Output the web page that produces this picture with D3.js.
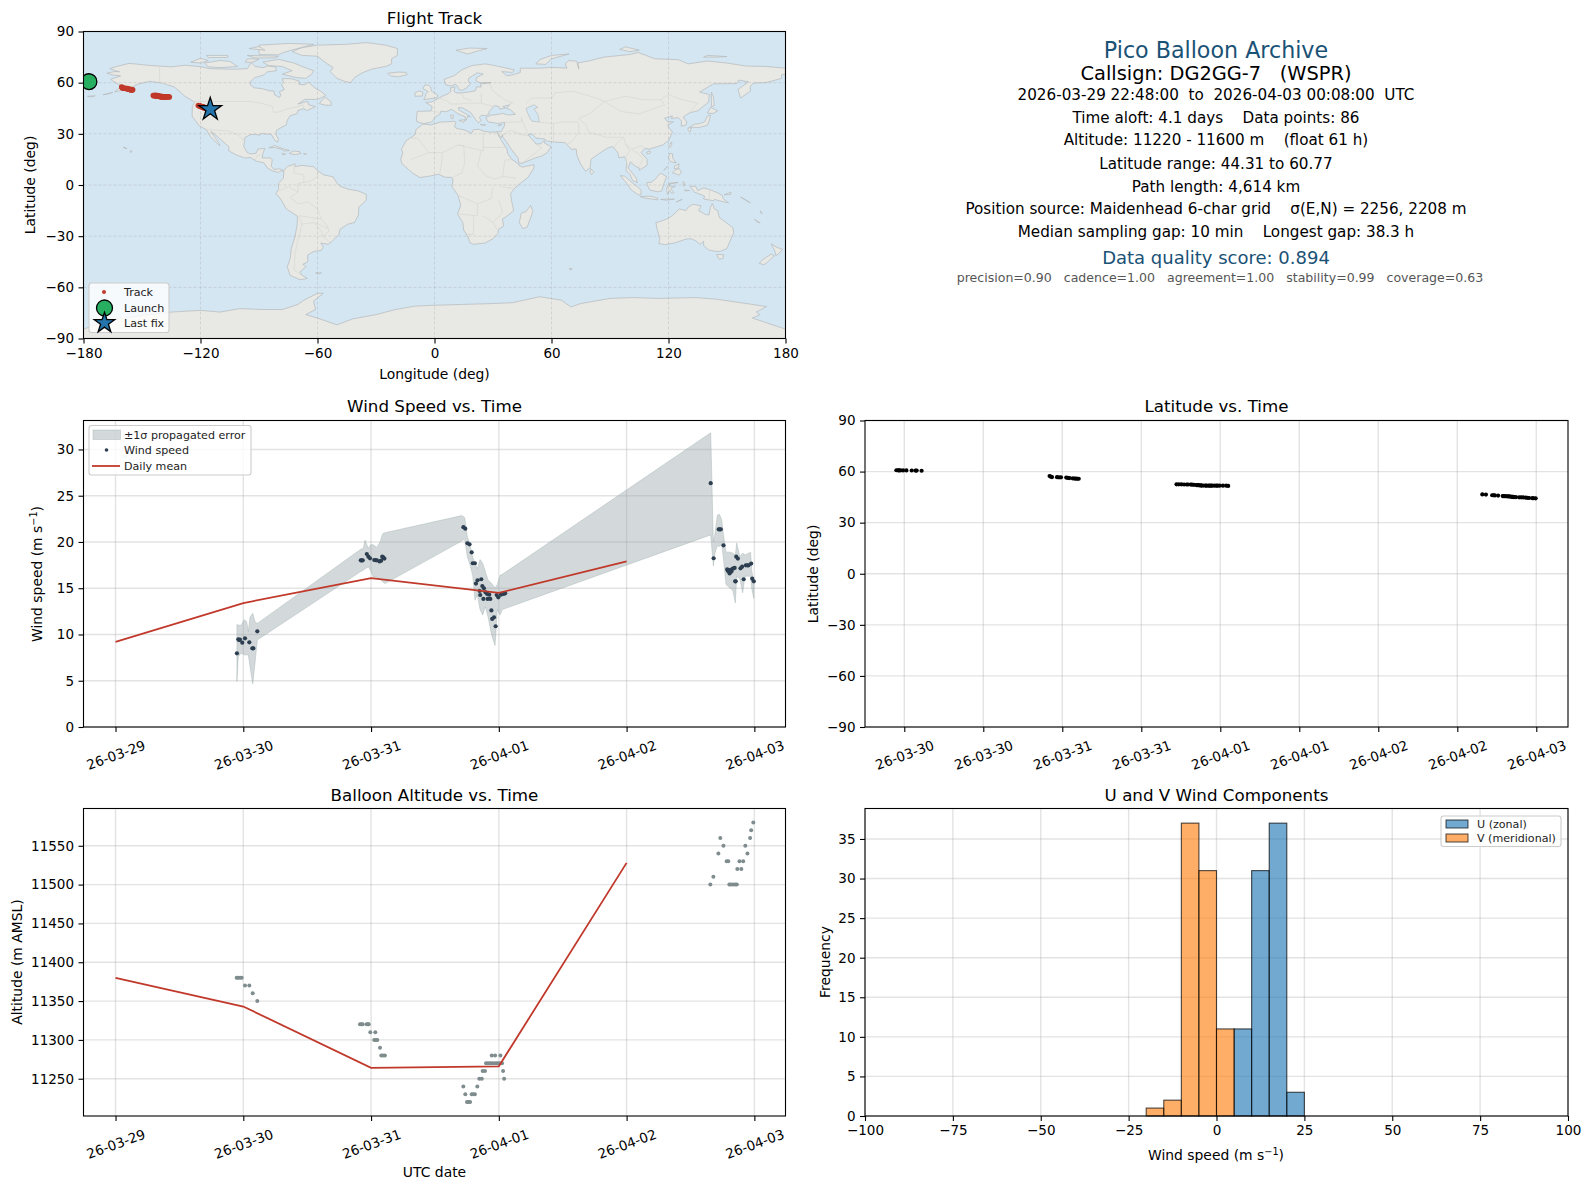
<!DOCTYPE html>
<html>
<head>
<meta charset="utf-8">
<script src="https://cdn.jsdelivr.net/npm/d3@7"></script>
<style>
  html, body { margin: 0; padding: 0; background: #fff; }
  svg { display: block; }
  text { font-family: "DejaVu Sans", sans-serif; fill: #000; }
  .tick text { font-size: 13.5px; }
  .tick line { stroke: #000; stroke-width: 1.1px; }
  .grid line { stroke: #b0b0b0; stroke-opacity: .35; stroke-width: 1.4px; }
  .titulo { font-size: 16.7px; text-anchor: middle; }
  .etiqueta { font-size: 13.9px; text-anchor: middle; }
  .leyenda { font-size: 11.1px; fill: #222; }
  .marco { fill: none; stroke: #000; stroke-width: 1.1px; }
</style>
</head>
<body>
<div id="graf"></div>
<script>
// I. Datos (hours = horas desde 2026-03-29 00:00 UTC)
windHours = [22.8, 23.06, 23.2, 23.38, 23.81, 24.32, 25.13, 25.7, 25.88, 26.63,
  46.07, 46.25, 46.44, 47.2, 47.5, 47.8, 48.6, 48.85, 49.1, 49.6, 49.9, 50.1, 50.3, 50.5,
  65.35, 65.7, 66.1, 66.5, 66.9, 67.1, 67.5, 67.7, 68.0, 68.4, 68.5, 68.7, 68.9, 69.1, 69.2, 69.5, 69.8, 69.9, 70.2, 70.4, 70.6, 70.75, 71.1, 71.4, 71.6, 71.9, 72.4, 72.9, 73.2,
  111.8, 112.35, 113.3, 113.5, 113.7, 114.2, 114.9, 115.0, 115.2, 115.35, 115.5, 115.7, 115.9, 116.1, 116.3, 116.4, 116.5, 116.6, 116.9, 117.4, 117.7, 118.0, 118.4, 118.7, 118.9, 119.4, 119.6, 119.9]
windSpeed = [7.96, 9.48, 9.4, 9.44, 9.11, 9.59, 9.15, 8.5, 8.5, 10.34,
  18.02, 18.0, 18.02, 18.7, 18.41, 18.23, 18.05, 18.03, 18.02, 17.9, 17.98, 18.41, 18.34, 18.2,
  21.6, 21.44, 19.86, 19.75, 18.88, 17.7, 17.7, 15.5, 15.86, 14.7, 14.27, 15.97, 15.24, 13.84, 15, 14.56, 14.38, 13.84, 14.3, 13.84, 12.6, 11.68, 11.86, 10.89, 14.27, 14.02, 14.3, 14.38, 14.45,
  26.35, 18.24, 21.37, 21.37, 21.37, 19.64, 17.05, 16.9, 16.8, 16.6, 17, 16.8, 17.1, 17.15, 17.2, 15.75, 15.75, 18.41, 18.2, 17.15, 17.33, 15.97, 17.48, 17.48, 17.48, 17.66, 16.03, 15.75]
latDeg = [60.77, 60.75, 60.75, 60.7, 60.7, 60.7, 60.65, 60.6, 60.6, 60.5,
  57.4, 57.0, 56.8, 56.7, 56.6, 56.6, 56.5, 56.3, 56.2, 56.0, 55.9, 55.9, 55.8, 55.8,
  52.5, 52.5, 52.5, 52.4, 52.4, 52.4, 52.4, 52.3, 52.2, 52.1, 52, 52, 51.9, 51.9, 51.8, 51.8, 51.8, 51.7, 51.7, 51.7, 51.7, 51.7, 51.7, 51.7, 51.7, 51.7, 51.7, 51.7, 51.6,
  46.6, 46.5, 46.1, 46.1, 46.0, 45.9, 45.6, 45.6, 45.5, 45.5, 45.5, 45.4, 45.4, 45.3, 45.2, 45.1, 45.1, 45.0, 45.0, 44.9, 44.9, 44.8, 44.7, 44.6, 44.5, 44.4, 44.35, 44.31]
lonDeg = [-177.2, -177, -176.8, -176.6, -176.3, -176, -175.6, -175.3, -175.1, -174.7,
  -160.4, -160.1, -159.8, -158.9, -158.5, -158.2, -157.4, -157.1, -156.8, -156.2, -155.9, -155.5, -155.2, -154.8,
  -144.2, -143.9, -143.5, -143.2, -142.9, -142.7, -142.3, -142.1, -141.8, -141.5, -141.3, -141.1, -140.8, -140.6, -140.3, -140, -139.7, -139.5, -139.2, -138.9, -138.6, -138.4, -138.1, -137.9, -137.6, -137.3, -137, -136.4, -136,
  -121.1, -120.6, -120.1, -119.9, -119.7, -119.3, -118.8, -118.7, -118.5, -118.4, -118.2, -118, -117.9, -117.7, -117.5, -117.4, -117.3, -117.2, -117, -116.7, -116.5, -116.3, -116, -115.8, -115.7, -115.4, -115.3, -115]

bandHours = [22.8, 23.06, 23.62, 24.13, 24.64, 24.94, 25.26, 25.77, 26.2, 26.63,
  46.05, 46.55, 46.86, 47.49, 47.93, 48.42, 49.06, 49.68, 50.19, 50.62,
  65.03, 65.46, 65.6, 66.08, 66.59, 67.09, 67.53, 67.96, 68.47, 68.97, 69.47, 69.97, 70.67, 71.29, 71.72, 72.23, 72.66, 73.16,
  111.8, 112.3, 112.6, 113.05, 113.42, 113.87, 114.17, 114.68, 115.43, 115.93, 116.43, 116.69, 117.3, 117.8, 118.25, 119.3, 119.5, 119.9]
bandHigh = [11.1, 11.0, 11.0, 11.6, 11.4, 10.3, 11.9, 12.3, 11.4, 11.2,
  19.2, 19.3, 20.2, 19.3, 19.7, 19.7, 19.4, 20.0, 20.9, 21.0,
  22.85, 22.7, 22.6, 20.6, 19.7, 18.4, 17.7, 17.1, 18.1, 17.7, 16.8, 15.9, 15.5, 15, 15.4, 16.4, 16.5, 16.7,
  31.8, 20.0, 20.9, 22.9, 23, 22.4, 20.9, 18.9, 18.9, 18.8, 18.6, 19.9, 18.4, 18.8, 18.6, 18.9, 17, 15.5]
bandLow = [4.9, 7.6, 8.0, 7.8, 7.8, 7.8, 6.5, 4.65, 6.9, 9.4,
  16.8, 16.95, 17.1, 17.3, 16.9, 16.2, 16.2, 16, 15.7, 15.5,
  20.1, 20.3, 20.2, 18.4, 17.5, 16.4, 13.7, 14.3, 12.7, 12.1, 13, 11.9, 9.9, 8.8, 12.7, 12.1, 12.7, 12.8,
  20.76, 17.4, 18.8, 19.6, 19.5, 19.8, 18.3, 15.4, 15.0, 14.8, 13.4, 16.3, 16, 14.5, 16.3, 16.3, 15, 13.9]

dailyDates = ['2026-03-29 00:00', '2026-03-30 00:00', '2026-03-31 00:00', '2026-04-01 00:00', '2026-04-02 00:00']
dailyWind = [9.2, 13.4, 16.1, 14.5, 17.9]
dailyAlt = [11380, 11343, 11264, 11266, 11528]

altHours = [22.76, 23.0, 23.38, 23.7, 24.32, 25.13, 25.77, 26.63,
  45.92, 46.17, 46.43, 47.18, 47.43, 47.56, 47.86, 48.8, 48.6, 48.9, 49.17, 49.68, 49.92, 50.24, 50.6,
  65.33, 65.7, 66.02, 66.3, 66.6, 66.9, 67.2, 67.5, 67.96, 68.33, 68.8, 68.97, 69.4, 69.6, 69.97, 70.35, 70.7, 71.1, 71.5, 71.85, 72.2, 72.6, 70.67, 71.3, 72.3, 72.8, 73.0,
  111.73, 112.3, 113.24, 113.6, 114.2, 114.8, 115.1, 115.3, 115.6, 116, 116.4, 116.7, 116.8, 117.2, 117.55, 117.9, 118.3, 118.7, 119.2, 119.4, 119.8]
altMeters = [11380, 11380, 11380, 11380, 11370, 11370, 11360, 11350,
  11320, 11320, 11320, 11320, 11320, 11320, 11310, 11310, 11300, 11300, 11300, 11290, 11280, 11280, 11280,
  11240, 11230, 11220, 11220, 11220, 11230, 11230, 11230, 11240, 11250, 11250, 11260, 11260, 11270, 11270, 11270, 11270, 11270, 11270, 11270, 11270, 11270, 11280, 11280, 11280, 11260, 11250,
  11500, 11510, 11540, 11560, 11550, 11530, 11530, 11500, 11500, 11500, 11500, 11500, 11520, 11530, 11520, 11530, 11550, 11540, 11560, 11570, 11580]

binEdges = [-20, -15, -10, -5, 0, 5, 10, 15, 20, 25]
uCounts = [0, 0, 0, 0, 0, 11, 31, 37, 3]
vCounts = [1, 2, 37, 31, 11, 0, 0, 0, 0]

dayTicks = ['2026-03-29 00:00', '2026-03-30 00:00', '2026-03-31 00:00', '2026-04-01 00:00', '2026-04-02 00:00', '2026-04-03 00:00']
halfDayTicks = ['2026-03-30 00:00', '2026-03-30 12:00', '2026-03-31 00:00', '2026-03-31 12:00', '2026-04-01 00:00', '2026-04-01 12:00', '2026-04-02 00:00', '2026-04-02 12:00', '2026-04-03 00:00']
lonTicks = [-180, -120, -60, 0, 60, 120, 180]
latTicks = [-90, -60, -30, 0, 30, 60, 90]
windTicks = [0, 5, 10, 15, 20, 25, 30]
altTicks = [11250, 11300, 11350, 11400, 11450, 11500, 11550]
histXTicks = [-100, -75, -50, -25, 0, 25, 50, 75, 100]
histYTicks = [0, 5, 10, 15, 20, 25, 30, 35]

launchLonLat = [-177.2, 60.6]
lastFixLonLat = [-115, 44.4]

infoLines = [
  ['Pico Balloon Archive', 22.2, '#1a5276', 50.7, 1216],
  ['Callsign: DG2GG-7   (WSPR)', 19.4, '#000', 73, 1216],
  ['2026-03-29 22:48:00  to  2026-04-03 00:08:00  UTC', 15.2, '#000', 94.2, 1216],
  ['Time aloft: 4.1 days    Data points: 86', 15.2, '#000', 117.6, 1216],
  ['Altitude: 11220 - 11600 m    (float 61 h)', 15.2, '#000', 139.8, 1216],
  ['Latitude range: 44.31 to 60.77', 15.2, '#000', 163.2, 1216],
  ['Path length: 4,614 km', 15.2, '#000', 186.5, 1216],
  ['Position source: Maidenhead 6-char grid    σ(E,N) = 2256, 2208 m', 15.2, '#000', 208.8, 1216],
  ['Median sampling gap: 10 min    Longest gap: 38.3 h', 15.2, '#000', 232, 1216],
  ['Data quality score: 0.894', 18, '#1a5276', 257.4, 1216],
  ['precision=0.90   cadence=1.00   agreement=1.00   stability=0.99   coverage=0.63', 12.55, '#555', 277.7, 1220]
]

// contornos de tierra [lon, lat], leídos a mano
landPolys = [
  // Norteamérica
  [[-168,65.6],[-164,66.5],[-161.5,66.4],[-163.5,67],[-166.5,68.3],[-163,69.5],[-156.6,71.3],[-152,70.8],[-145,70],[-141,69.7],[-135,69.3],[-128,70.2],[-125,69.9],[-120,69.4],[-115,68.2],[-108,68],[-102,67.9],[-96,68.2],[-94,71.8],[-92,69.5],[-88,68.8],[-85.5,69.8],[-81.5,69.2],[-81,67],[-86,66.3],[-87.5,64.5],[-92,63],[-94.5,60.5],[-94.5,58.8],[-92.5,57],[-88,56.4],[-85,55.3],[-82.3,55.1],[-82,52.9],[-79.5,51.3],[-78.8,52.5],[-79.5,54.7],[-77,56],[-78.5,58.8],[-77.5,60],[-78,62.4],[-73.5,62.3],[-69.5,61],[-69.5,59],[-66.5,58.8],[-64.5,60.3],[-61.5,57],[-58,54.8],[-55.7,52.4],[-60,50.2],[-66.5,50.2],[-70,47.5],[-65,49.1],[-64.5,47],[-61,46],[-65.5,43.6],[-67,44.8],[-70,43.7],[-70.5,41.8],[-74,40.6],[-75.5,38],[-76,35.2],[-78.5,33.8],[-81,32],[-81.3,29.8],[-80,26.8],[-80.5,25.2],[-81.8,26],[-82.8,28],[-84,30],[-85.5,29.8],[-89,30.2],[-89.5,29.2],[-92,29.7],[-94.5,29.5],[-97.2,27.8],[-97.8,22.5],[-96,19],[-94.5,18.2],[-91.5,18.6],[-90.5,21],[-87,21.5],[-88,18.5],[-88.5,16],[-84,15.8],[-83.2,14.9],[-83.7,11],[-82.3,9.1],[-79.8,9.5],[-77.4,8.6],[-77.3,8],[-78.5,8.3],[-80,7.4],[-83,8.2],[-85.7,10],[-87.5,13],[-91.5,14],[-94.5,16.2],[-97,15.8],[-101.5,17.5],[-105.5,20],[-105.5,22.5],[-109,26],[-112.5,29.5],[-114.7,31.5],[-113,28.5],[-110.5,24.5],[-110,23],[-112,25],[-115,28.5],[-117,32.5],[-120.5,34.5],[-122.5,37.5],[-124.3,40.3],[-124.2,46],[-123,48.5],[-125,50],[-128,52],[-130.5,54.7],[-133.5,57.5],[-137,58.8],[-140,59.8],[-146,60.8],[-149,60],[-152,59.2],[-154,58],[-158,56],[-164,54.6],[-160,58.5],[-162,59],[-165,61],[-166,62],[-161,64],[-165,64.5]],
  // Sudamérica
  [[-77.3,8.5],[-75.5,10.8],[-71.5,12.4],[-71.5,10.8],[-68,11.5],[-62,10.7],[-60,8.5],[-57,6],[-52,4.8],[-50,1],[-48,-1],[-44,-2.5],[-39,-3.5],[-35,-5.5],[-35,-9],[-38.8,-13],[-39,-17.5],[-41,-22],[-44.5,-23],[-48.5,-26],[-49,-29],[-52.5,-33],[-54.5,-34.8],[-58.3,-34],[-57,-36.5],[-58,-38.3],[-62,-39],[-65,-41],[-65,-45],[-67.5,-46.5],[-65.8,-47.8],[-69,-51],[-68.3,-52.5],[-65.2,-54.8],[-69,-55.5],[-74,-53],[-75.5,-48],[-74,-43],[-73.5,-37.5],[-71.5,-30],[-70.4,-23],[-70.3,-18.3],[-76,-14],[-79,-8],[-81.3,-5],[-80,-2.5],[-80,1],[-77.5,4],[-77.3,7]],
  // África
  [[-5.9,35.8],[-2,35.2],[3,36.9],[10,37.3],[11,36.8],[10.2,34.2],[11.5,33.1],[15.3,32.3],[19,30.3],[20,32.5],[23,32.6],[25,31.6],[29,30.9],[32.3,31.2],[32.5,29.9],[34,26.7],[35.5,24],[37.2,21],[37.5,18.5],[39.5,15.2],[43.2,12.2],[43.3,11.5],[45,10.5],[51,11.9],[51,10],[48,4.5],[44,1],[41,-2],[39,-5],[39.5,-9],[40.6,-15],[36.5,-18.8],[34.8,-20],[35.5,-24],[32.8,-26],[32.5,-28.5],[30,-31.5],[26,-34],[20,-34.8],[18.3,-34],[17,-30],[15,-26.5],[14.5,-22],[11.8,-17],[13.5,-12],[12,-6],[9,-1],[9.5,3.5],[8.5,4.5],[5.5,4.5],[2,6.3],[-3,5.1],[-7.5,4.4],[-11,6.8],[-13.3,9],[-16.7,12.5],[-17.3,14.8],[-16.3,19],[-17,21],[-14.5,26],[-10,29.5],[-9.5,32.5]],
  // Eurasia
  [[-5.5,36],[-8.9,37],[-9.3,38.8],[-8.8,43.2],[-1.8,43.4],[-1.2,46],[-4.5,48.4],[-1.5,48.7],[1.5,50.5],[4,52],[7,53.5],[8.5,55],[8.2,57],[10.5,57.5],[10,55],[11,54],[14,54],[18.5,54.7],[21,55.3],[21.5,57.5],[24,57.5],[23.5,59.2],[29,60],[23,60],[21.3,61],[21.5,63],[25,65],[22,65.8],[17.5,62.5],[17.3,60.7],[18.5,59.5],[16.5,57],[14.5,55.7],[13,55.5],[11,59],[8,58],[5.5,59],[5,62],[10,64],[14,67.5],[19,70],[26,71],[31,70],[41,67.5],[40,66],[34.5,66.5],[37,64],[40.5,64.7],[44,66],[44,68.5],[54,68.5],[60,69],[68,68.5],[67,71],[69,73],[73,72.5],[74,68],[73.5,71.5],[80,73],[87,75],[100,76.5],[104.5,77.7],[113,74],[125,73.5],[130,71],[140,72.7],[150,71.5],[160,69.7],[170,69.5],[180,68.5],[180,65],[178,64.6],[178,62.5],[170,60],[163.5,59.8],[162,57.8],[162,55],[157,51],[155.6,56],[161,60.5],[156,61.5],[155,59.5],[143,59.3],[136,54.5],[141,53],[140.5,48.5],[135,43.5],[130.7,42.3],[127.5,39.8],[129.4,37],[129,35.2],[126.5,34.5],[126.7,37.5],[125,39.5],[121.5,39],[122,40.5],[118,39.2],[119.5,37.2],[122.5,37],[119.5,35],[122,31],[120,26],[117,23.5],[113.5,22.2],[110,21],[108,21.5],[106,19],[109,15],[109,11.5],[105,8.7],[105,10],[103,11],[100.5,13.5],[99.3,10],[103.5,4],[104,1.3],[101.5,2.8],[100.3,6],[98.3,8.5],[98.5,14],[97.5,16.5],[94.5,16],[94,19],[91.5,22.5],[89,21.8],[86.5,20],[82,16.5],[80.2,15],[80,12],[79.8,10.3],[78,8.5],[77.5,8],[75,12],[73,17.5],[72.7,21],[70,21],[69,22.5],[67,24.8],[61.5,25.2],[57.3,25.8],[56.5,27],[52,27.5],[50,30],[48,29.5],[50,26.7],[51.5,25],[52,24],[54.5,24.2],[56.3,26],[56.5,24.5],[59.8,22.5],[57.8,19],[55,17],[52,16],[45,12.8],[43.3,12.8],[42.8,16],[39,21.5],[36.8,25.5],[35,28],[34.9,29.5],[34.2,27.8],[32.6,29.9],[32.3,31.2],[34.2,31.3],[35.8,34.5],[36,36.7],[32.5,36.1],[30.5,36.5],[27.5,37],[26.3,39.5],[29,41],[31.5,41.2],[35,42],[38,41],[41.5,41.5],[39,44],[37,45],[38.5,47],[35,46],[36.5,45.2],[33.5,44.5],[33,46],[30.7,46.5],[28,43],[28,41.5],[26.3,40.7],[24,40.8],[23,39.5],[24,37.8],[22.5,36.5],[21,38.5],[19.5,41],[18.5,42.5],[14.5,45.2],[12.4,45.4],[12.4,44],[16,41.8],[18.5,40],[17,40.4],[16.3,38],[15.7,38],[15.8,40],[12.5,41.5],[10.5,43],[8.8,44.4],[6,43],[3.2,43.2],[3,41.8],[0,39.5],[-0.5,38],[-2,36.7]],
  // Antártida
  [[-180,-90],[-180,-84.5],[-165,-78.5],[-158,-78],[-150,-76.5],[-135,-74.5],[-120,-73.5],[-110,-74.5],[-100,-72.5],[-88,-73],[-78,-73],[-70,-70],[-67,-67.5],[-60,-63.5],[-57,-63.5],[-62,-68],[-61,-73],[-66,-76],[-60,-78],[-50,-82],[-42,-78.5],[-30,-76],[-20,-73],[-10,-71],[0,-70.5],[15,-70],[30,-69.5],[40,-69],[54,-65.5],[65,-67.5],[70,-71.5],[75,-69.5],[90,-66.5],[102,-66],[115,-66.5],[134,-66],[145,-67],[160,-69.5],[170.3,-71.3],[165,-74.5],[167,-76],[163,-78],[180,-84.5],[180,-90]],
  // Australia y Oceanía
  [[113.5,-22],[114.2,-26],[115.5,-31.5],[115,-34.3],[118,-35],[123.5,-33.9],[129,-31.7],[131.5,-31.5],[134,-32.7],[136,-34.8],[138,-33],[138,-35.5],[140.5,-38],[143.5,-38.8],[146.5,-39],[150,-37.2],[151.5,-33],[153.5,-28],[153,-25],[149.5,-22],[146,-19],[145.3,-15],[143.5,-14],[142.5,-10.8],[141.5,-13],[140.8,-17.5],[139,-17.3],[135.5,-15],[136.8,-12.2],[132.5,-11.3],[130,-13],[129,-15],[125.5,-14],[122,-18],[119,-20],[114.5,-21.8]],
  [[144.7,-40.7],[148.3,-40.9],[148,-43],[146,-43.6]],
  [[172.7,-34.5],[175.5,-36.5],[178.5,-37.7],[176.8,-40],[175,-41.5],[174.8,-39.5]],
  [[172.7,-40.5],[174.2,-41.5],[171,-45],[169,-46.7],[166.5,-46],[168,-44]],
  [[131,-0.8],[134,-0.8],[135,-3.3],[138,-1.7],[141,-2.6],[145,-4.5],[147.5,-6],[148,-8],[150.8,-10.5],[147,-9.5],[143.5,-8.5],[143,-9.2],[138,-8.2],[138.5,-6.5],[133,-4],[132.5,-2.8]],
  [[148.5,-5.8],[152,-4.2],[152,-5.5]],
  [[157,-7],[160,-9],[162,-10.5],[159,-8.5]],
  [[167,-15],[168,-17],[167.3,-16]],
  [[164,-20],[167,-22.2],[165.5,-21.7]],
  // Ártico y Atlántico norte
  [[-73,78.2],[-68,76],[-60,75.5],[-55,71],[-52,69],[-53.5,66.5],[-50,62.5],[-46,60.7],[-43,60],[-41,63],[-37,65.8],[-32,68],[-25,69.5],[-22,71],[-22,74],[-19,76],[-19,80],[-25,82],[-35,83.5],[-45,82.5],[-60,82],[-68,80.5]],
  [[-80,73.7],[-72,71.5],[-68,69.5],[-62,67],[-63,65],[-66,62.5],[-71,63],[-78,65],[-73,67],[-78,69.5],[-85,70],[-88,72]],
  [[-118,71.5],[-110,73],[-105,72.5],[-101,69.5],[-110,68.8],[-116,69.3]],
  [[-125,72],[-120,74.3],[-116,73],[-120,71.5]],
  [[-90,76.5],[-80,76.3],[-78,77.5],[-72,79.5],[-62,82.5],[-75,83],[-90,82]],
  [[-96,76],[-80,75.5],[-82,74.5],[-92,74.5]],
  [[-117,76],[-106,76],[-106,74.8],[-116,74.7]],
  [[-96,74],[-90,73.8],[-93,72],[-97,72]],
  [[-95,80],[-87,79],[-90,81.2]],
  [[-59,47.7],[-56,46.8],[-53,46.7],[-53,48.7],[-56,51.5],[-57.5,50]],
  [[-24,65.5],[-18.5,66.2],[-14.5,66],[-14,64.7],[-18.5,63.4],[-22.7,64]],
  [[-5.5,50],[1.3,51.2],[1.7,52.7],[-1.5,55],[-2,57.5],[-3,58.6],[-5,58.6],[-6,56.5],[-3.2,54.8],[-4.5,53.3],[-4.8,51.7]],
  [[-10,52],[-6.2,52.2],[-6,54.5],[-8,55.2],[-10,54]],
  [[11,79],[17,76.8],[22,78.5],[27,80],[18,80.3]],
  [[52,71],[57,70.7],[60,74],[69,76.8],[60,76],[54,73.5]],
  [[95,79.5],[100,78.2],[105,79],[98,81]],
  [[138,75],[145,75],[150,75.3],[140,76]],
  // Caribe y Pacífico norte
  [[-85,21.8],[-82,23.1],[-77,21],[-74.3,20.2],[-77.5,19.9],[-78,20.8],[-82,22]],
  [[-74.4,18.5],[-72.7,19.9],[-69,19.5],[-68.5,18.5],[-71.5,17.8]],
  [[-78.3,18.4],[-76.3,18.1],[-77.5,17.8]],
  [[-67.2,18.4],[-65.7,18.3],[-66.5,18]],
  [[-156,20.2],[-155,19.7],[-155.8,19]],
  [[-159.7,22.2],[-157.7,21.5],[-158.2,21.3]],
  [[-170,52.9],[-166,54],[-165,54.3],[-167,53.5]],
  [[-178,52],[-174,52.3],[-176,51.7]],
  // Asia insular
  [[142,54.3],[143,52],[143.5,46.5],[142,46],[142,50]],
  [[130.9,34],[135.5,33.7],[140,35],[141,38],[141.5,41],[140,40.5],[138.5,37],[136,36],[133,35.5]],
  [[140,42],[141.5,45.5],[145.3,43.5],[143,42]],
  [[130,33.5],[131.8,33.5],[131,31],[130,32]],
  [[120.2,23],[121.5,25.2],[121.8,24],[120.9,22]],
  [[108.8,19.3],[110.5,20],[110.8,18.8],[109,18.2]],
  [[120,16],[120.7,18.5],[122.2,18.3],[122,16],[124,13],[121,13.7]],
  [[122,7.2],[123.5,8.7],[125.5,9.7],[126.5,7.5],[125.5,5.7],[124,6.5]],
  [[123,11],[125.5,12.5],[125,10],[123,9.5]],
  [[117.5,8.5],[119.5,11],[118,9]],
  [[109,1.5],[111,1.5],[113,3.2],[116,7],[119,5],[117.7,1],[116.5,-3.5],[114.5,-4],[110.5,-3],[109,0]],
  [[95.3,5.5],[97.5,5.2],[100.5,2.2],[104,-1],[106,-3],[105.8,-5.8],[104.5,-5.8],[101,-3],[98.5,1]],
  [[105.5,-6.8],[108.5,-6.6],[111,-6.6],[114.5,-7.8],[114.5,-8.7],[108.5,-7.8]],
  [[116,-8.5],[119,-8.3],[123,-8.3],[119,-8.9]],
  [[124,-10],[127,-8.4],[125,-9.5]],
  [[119.5,-5.5],[120.5,-3],[121.5,-4.8],[122.8,-4.5],[121,-2],[123.5,-0.8],[120.5,-0.7],[120.5,1],[125,1.5],[120,0.5],[119,-2.5]],
  [[127.5,2],[128.5,1],[128,-0.7],[127.5,0.5]],
  [[128,-3],[130.8,-3.2],[129,-3.5]],
  [[49.3,-12],[50.5,-15.5],[47.5,-24.8],[45.2,-25.5],[43.5,-22],[44.5,-16.5],[47,-15.5]],
  [[80,9.7],[81.8,7.5],[80.6,6],[79.8,7.5]],
  [[69,-49],[70.5,-49],[70,-50]],
  [[-61,-51.5],[-58,-51.5],[-59,-52.3]],
  [[8.2,41],[9.7,41],[9.5,39],[8.5,39]],
  [[12.5,38],[15.6,38.2],[15,36.7]],
  [[32.5,35],[34.5,35.6],[33.5,34.7]],
  [[23.5,35.5],[26.3,35.2],[24.5,35]]
]
waterPolys = [
  [[47,45],[51,47],[53,45.5],[51,44.5],[53,41.5],[53.8,37],[50,37.4],[49,39],[47.5,43]]
]
borderLines = [
  [[-123,49],[-95,49],[-89,48],[-83,46],[-82.5,42.5],[-79,43],[-76,44.5],[-70,46],[-67.5,47],[-67,45]],
  [[-141,69.7],[-141,60],[-137,58.8]],
  [[-117,32.5],[-106.5,31.8],[-101,29.5],[-97.5,26]],
  [[-92,14.5],[-91,17],[-89,17.8]],
  [[-60,5],[-64,2],[-70,1],[-70,-4],[-74,-7.5],[-70,-11],[-65,-10],[-60,-14],[-58,-20],[-55,-24],[-54,-27],[-57.5,-30],[-53.5,-33.7]],
  [[-69.5,-18],[-68,-23],[-70,-32],[-71.5,-40],[-72,-50],[-68.5,-52.5]],
  [[-60,8],[-60,5]], [[-72,12],[-72,7],[-67,6],[-67,1.2]], [[-80,-3.5],[-75,-1],[-70,-4]], [[-69.5,-18],[-58,-20]], [[-62,-22],[-54.5,-25.5]], [[-68,-23],[-62,-22],[-58,-27],[-57.5,-30]],
  [[-13,27.5],[-8.7,27.5],[-3,19],[4,19],[12,23.5],[25,20],[25,31.6]], [[25,22],[37,22]], [[-3,19],[-12,15]], [[4,19],[3.5,12],[2.7,6.5]],
  [[12,23.5],[15,23],[15.5,13],[14,7],[9,4.5]], [[24,20],[22,11],[27,5],[31,3.5],[35,5],[42,4]], [[35,5],[36,14.5],[39.5,15]], [[34,-1],[41,-2]],
  [[30,-1],[29,-8],[22,-11],[12,-6]], [[22,-11],[22,-18],[12,-17]], [[20,-18],[20,-29],[17,-29]], [[33,-9],[35,-16],[30,-22],[32,-26]], [[25,-18],[30,-22]],
  [[-2,43.4],[3,42.5]], [[2.5,51],[7,49],[8,47.5],[13,47.5],[17,48],[24,48],[30,46]], [[14,54],[15,51],[19,49.5]], [[24,54],[24,48]], [[28,60],[30,55],[36,50],[40,48],[38,47]],
  [[47,48],[50,51],[60,51],[62,54],[71,55],[77,53],[83,51],[87,49]],
  [[87,49],[98,52],[107,50],[116,50],[120,53],[127,50],[135,48],[131,43],[130.7,42.3]], [[87,49],[96,43],[105,41.7],[112,44.5],[118,47],[116,50]],
  [[80,42],[74,39],[78,35],[79,31],[88,28],[97,28],[98,24],[101,21],[106,23],[108,21.5]], [[80,42],[87,49]],
  [[74,36],[74,31],[70,25],[68,24]], [[44.5,39.5],[46,35],[48,30]], [[61,36.5],[61,25.2]], [[53,37],[61,36],[66,37],[74,37]],
  [[35,29.5],[39,32],[46,29],[48,29]], [[45,13],[52,19],[55,22],[52,24]], [[92,22],[94,25],[97,28]], [[98,24],[100,20],[98,16],[99,11]], [[101,21],[105,18],[107,15],[105,11]],
  [[36,36.7],[44.5,37],[44.5,39.5]], [[141,-2.6],[141,-9.2]]
]

// II. Configuración
ancho_total = 1589
alto_total = 1189
parseT = d3.utcParse('%Y-%m-%d %H:%M')
baseT = Date.UTC(2026, 2, 29)
hourToDate = h => new Date(baseT + h * 3600000)
fmtDia = d3.utcFormat('%y-%m-%d')

panelMapa = { x: 83.5, y: 31.5, w: 702, h: 307 }
panelViento = { x: 83.5, y: 420.5, w: 702, h: 306.5 }
panelLat = { x: 865, y: 420.5, w: 703, h: 306.5 }
panelAlt = { x: 83.5, y: 808.5, w: 702, h: 307.5 }
panelHist = { x: 865, y: 808.5, w: 703, h: 307.5 }

svg = d3.select('#graf').append('svg')
        .attr('width', ancho_total)
        .attr('height', alto_total)

clipId = 0
function nuevoPanel(p) {
  g = svg.append('g').attr('transform', `translate(${ p.x }, ${ p.y })`)
  id = 'clip' + (clipId++)
  g.append('clipPath').attr('id', id).append('rect').attr('width', p.w).attr('height', p.h)
  return { g: g, clip: id, p: p }
}

function ejes(panel, x, y, xTicks, yTicks, xFmt, yFmt, rotar) {
  p = panel.p
  gridG = panel.g.insert('g', ':first-child').attr('class', 'grid')
  gridG.selectAll('.gx').data(xTicks).enter().append('line').attr('class', 'gx')
    .attr('x1', d => x(d)).attr('x2', d => x(d)).attr('y1', 0).attr('y2', p.h)
  gridG.selectAll('.gy').data(yTicks).enter().append('line').attr('class', 'gy')
    .attr('x1', 0).attr('x2', p.w).attr('y1', d => y(d)).attr('y2', d => y(d))

  xAxis = panel.g.append('g').attr('transform', `translate(0, ${ p.h })`)
    .call(d3.axisBottom(x).tickValues(xTicks).tickFormat(xFmt).tickSize(5).tickPadding(4.5))
  yAxis = panel.g.append('g')
    .call(d3.axisLeft(y).tickValues(yTicks).tickFormat(yFmt).tickSize(5).tickPadding(4.5))
  xAxis.select('.domain').remove()
  yAxis.select('.domain').remove()
  if (rotar) {
    xAxis.selectAll('text')
      .attr('y', 0).attr('dy', '.35em')
      .attr('transform', 'translate(0, 28) rotate(-20)')
  }
  panel.g.append('rect').attr('class', 'marco').attr('width', p.w).attr('height', p.h)
}

function titulo(p, texto, dy) {
  svg.append('text').attr('class', 'titulo')
    .attr('x', p.x + p.w / 2).attr('y', p.y - 8 - (dy || 0)).text(texto)
}
function etiquetaX(x, y, texto) {
  return svg.append('text').attr('class', 'etiqueta').attr('x', x).attr('y', y).text(texto)
}
function etiquetaY(x, y, texto) {
  return svg.append('text').attr('class', 'etiqueta')
    .attr('transform', `translate(${ x }, ${ y }) rotate(-90)`).text(texto)
}
function unidadViento(sel) {
  sel.text(null)
  sel.append('tspan').text('Wind speed (m s')
  sel.append('tspan').attr('font-size', '9.7px').attr('dy', '-5').text('−1')
  sel.append('tspan').attr('dy', '5').text(')')
}
function cajaLeyenda(x, y, w, h) {
  svg.append('rect').attr('x', x).attr('y', y).attr('width', w).attr('height', h)
    .attr('rx', 2.5).attr('fill', '#fff').attr('fill-opacity', .8)
    .attr('stroke', '#ccc').attr('stroke-width', 1.1)
}
function textoLeyenda(x, y, t) {
  svg.append('text').attr('class', 'leyenda').attr('x', x).attr('y', y)
    .attr('dy', '.35em').text(t)
}

// III. Mapa
mapa = nuevoPanel(panelMapa)
xLon = d3.scaleLinear().domain([-180, 180]).range([0, panelMapa.w])
yLat = d3.scaleLinear().domain([-90, 90]).range([panelMapa.h, 0])
lineaGeo = d3.line().x(d => xLon(d[0])).y(d => yLat(d[1]))

capa = mapa.g.append('g').attr('clip-path', `url(#${ mapa.clip })`)
capa.append('rect').attr('width', panelMapa.w).attr('height', panelMapa.h).attr('fill', '#d4e6f1')
capa.selectAll('.land').data(landPolys).enter().append('path').attr('class', 'land')
  .attr('d', d => lineaGeo(d) + 'Z')
  .attr('fill', '#e8e8e4').attr('stroke', '#b4b9bb').attr('stroke-width', .7)
capa.selectAll('.water').data(waterPolys).enter().append('path').attr('class', 'water')
  .attr('d', d => lineaGeo(d) + 'Z')
  .attr('fill', '#d4e6f1').attr('stroke', '#b4b9bb').attr('stroke-width', .6)
capa.selectAll('.border').data(borderLines).enter().append('path').attr('class', 'border')
  .attr('d', lineaGeo).attr('fill', 'none')
  .attr('stroke', '#d8d8d3').attr('stroke-width', .7)

capa.selectAll('.mx').data(lonTicks).enter().append('line').attr('class', 'mx')
  .attr('x1', d => xLon(d)).attr('x2', d => xLon(d)).attr('y1', 0).attr('y2', panelMapa.h)
  .attr('stroke', '#999').attr('stroke-opacity', .4).attr('stroke-width', .7).attr('stroke-dasharray', '3 2')
capa.selectAll('.my').data(latTicks).enter().append('line').attr('class', 'my')
  .attr('x1', 0).attr('x2', panelMapa.w).attr('y1', d => yLat(d)).attr('y2', d => yLat(d))
  .attr('stroke', '#999').attr('stroke-opacity', .4).attr('stroke-width', .7).attr('stroke-dasharray', '3 2')

capa.selectAll('.trk').data(d3.zip(lonDeg, latDeg)).enter().append('circle').attr('class', 'trk')
  .attr('cx', d => xLon(d[0])).attr('cy', d => yLat(d[1])).attr('r', 2.8).attr('fill', '#c0392b')
capa.append('circle').attr('cx', xLon(launchLonLat[0])).attr('cy', yLat(launchLonLat[1])).attr('r', 7.9)
  .attr('fill', '#27ae60').attr('stroke', '#000').attr('stroke-width', 1.3)
estrella = d3.symbol().type(d3.symbolStar)
capa.append('path').attr('d', estrella.size(160)())
  .attr('transform', `translate(${ xLon(lastFixLonLat[0]) }, ${ yLat(lastFixLonLat[1]) })`)
  .attr('fill', '#2475ac').attr('stroke', '#000').attr('stroke-width', 1.3)

ejes(mapa, xLon, yLat, lonTicks, latTicks, d3.format('d'), d3.format('d'), false)
mapa.g.select('.grid').remove()
titulo(panelMapa, 'Flight Track')
etiquetaX(434.5, 379, 'Longitude (deg)')
etiquetaY(35, 185, 'Latitude (deg)')

cajaLeyenda(89, 283, 80, 49.5)
svg.append('circle').attr('cx', 104).attr('cy', 292).attr('r', 2).attr('fill', '#c0392b')
textoLeyenda(124, 292, 'Track')
svg.append('circle').attr('cx', 104.5).attr('cy', 308).attr('r', 8)
  .attr('fill', '#27ae60').attr('stroke', '#000').attr('stroke-width', 1.3)
textoLeyenda(124, 308, 'Launch')
svg.append('path').attr('d', estrella.size(130)())
  .attr('transform', 'translate(104.5, 323)')
  .attr('fill', '#2475ac').attr('stroke', '#000').attr('stroke-width', 1.3)
textoLeyenda(124, 323, 'Last fix')

// IV. Texto de resumen
svg.append('g').selectAll('text').data(infoLines).enter().append('text')
  .attr('x', d => d[4]).attr('y', d => d[3])
  .attr('dy', '.35em').attr('text-anchor', 'middle')
  .style('font-size', d => d[1] + 'px').style('fill', d => d[2])
  .style('white-space', 'pre').attr('xml:space', 'preserve')
  .text(d => d[0])

// V. Viento vs tiempo
viento = nuevoPanel(panelViento)
xT = d3.scaleUtc()
  .domain([parseT('2026-03-28 17:59'), parseT('2026-04-03 05:51')])
  .range([0, panelViento.w])
yViento = d3.scaleLinear().domain([0, 33.13]).range([panelViento.h, 0])

banda = d3.area().x(d => xT(hourToDate(d[0]))).y0(d => yViento(d[1])).y1(d => yViento(d[2]))
viento.g.append('path').datum(d3.zip(bandHours, bandLow, bandHigh))
  .attr('d', banda).attr('fill', '#95a5a6').attr('fill-opacity', .42)
  .attr('stroke', '#95a5a6').attr('stroke-opacity', .35).attr('stroke-width', 1)
viento.g.selectAll('.pt').data(d3.zip(windHours, windSpeed)).enter().append('circle').attr('class', 'pt')
  .attr('cx', d => xT(hourToDate(d[0]))).attr('cy', d => yViento(d[1])).attr('r', 2.1).attr('fill', '#2c3e50')
lineaViento = d3.line().x(d => xT(parseT(d[0]))).y(d => yViento(d[1]))
viento.g.append('path').datum(d3.zip(dailyDates, dailyWind))
  .attr('d', lineaViento).attr('fill', 'none').attr('stroke', '#c0392b').attr('stroke-width', 1.8)

ejes(viento, xT, yViento, dayTicks.map(parseT), windTicks, fmtDia, d3.format('d'), true)
titulo(panelViento, 'Wind Speed vs. Time', 1)
unidadViento(etiquetaY(42, 574, ''))

cajaLeyenda(89, 425.5, 162, 49.5)
svg.append('rect').attr('x', 93).attr('y', 430).attr('width', 27.5).attr('height', 9.5)
  .attr('fill', '#95a5a6').attr('fill-opacity', .42).attr('stroke', '#95a5a6').attr('stroke-opacity', .35)
textoLeyenda(124, 435, '±1σ propagated error')
svg.append('circle').attr('cx', 106.5).attr('cy', 450).attr('r', 1.8).attr('fill', '#2c3e50')
textoLeyenda(124, 450, 'Wind speed')
svg.append('line').attr('x1', 92).attr('x2', 120).attr('y1', 466).attr('y2', 466)
  .attr('stroke', '#c0392b').attr('stroke-width', 1.8)
textoLeyenda(124, 466, 'Daily mean')

// VI. Latitud vs tiempo
lat = nuevoPanel(panelLat)
xTL = d3.scaleUtc()
  .domain([parseT('2026-03-29 18:02'), parseT('2026-04-03 04:49')])
  .range([0, panelLat.w])
yLat2 = d3.scaleLinear().domain([-90, 90]).range([panelLat.h, 0])
lat.g.selectAll('.pt').data(d3.zip(windHours, latDeg)).enter().append('circle').attr('class', 'pt')
  .attr('cx', d => xTL(hourToDate(d[0]))).attr('cy', d => yLat2(d[1])).attr('r', 2.1).attr('fill', '#000')
ejes(lat, xTL, yLat2, halfDayTicks.map(parseT), latTicks, fmtDia, d3.format('d'), true)
titulo(panelLat, 'Latitude vs. Time', 1)
etiquetaY(818, 574, 'Latitude (deg)')

// VII. Altitud vs tiempo
alt = nuevoPanel(panelAlt)
yAlt = d3.scaleLinear().domain([11202, 11598]).range([panelAlt.h, 0])
alt.g.selectAll('.pt').data(d3.zip(altHours, altMeters)).enter().append('circle').attr('class', 'pt')
  .attr('cx', d => xT(hourToDate(d[0]))).attr('cy', d => yAlt(d[1])).attr('r', 2).attr('fill', '#7f8c8d')
lineaAlt = d3.line().x(d => xT(parseT(d[0]))).y(d => yAlt(d[1]))
alt.g.append('path').datum(d3.zip(dailyDates, dailyAlt))
  .attr('d', lineaAlt).attr('fill', 'none').attr('stroke', '#c0392b').attr('stroke-width', 1.8)
ejes(alt, xT, yAlt, dayTicks.map(parseT), altTicks, fmtDia, d3.format('d'), true)
titulo(panelAlt, 'Balloon Altitude vs. Time')
etiquetaX(434.5, 1177, 'UTC date')
etiquetaY(22, 962, 'Altitude (m AMSL)')

// VIII. Histograma
hist = nuevoPanel(panelHist)
xH = d3.scaleLinear().domain([-100, 100]).range([0, panelHist.w])
yH = d3.scaleLinear().domain([0, 38.85]).range([panelHist.h, 0])
function barras(conteos, color) {
  filas = d3.zip(binEdges.slice(0, -1), binEdges.slice(1), conteos).filter(d => d[2] > 0)
  hist.g.append('g').selectAll('rect').data(filas).enter().append('rect')
    .attr('x', d => xH(d[0]))
    .attr('width', d => xH(d[1]) - xH(d[0]))
    .attr('y', d => yH(d[2]))
    .attr('height', d => panelHist.h - yH(d[2]))
    .attr('fill', color).attr('fill-opacity', .63)
    .attr('stroke', '#000').attr('stroke-opacity', .7).attr('stroke-width', 1.1)
}
barras(uCounts, '#1f77b4')
barras(vCounts, '#ff7f0e')
ejes(hist, xH, yH, histXTicks, histYTicks, d3.format('d'), d3.format('d'), false)
titulo(panelHist, 'U and V Wind Components')
unidadViento(etiquetaX(1216, 1160, ''))
etiquetaY(830, 962, 'Frequency')

cajaLeyenda(1441, 816, 120, 30.5)
svg.append('rect').attr('x', 1446).attr('y', 820).attr('width', 22).attr('height', 8)
  .attr('fill', '#1f77b4').attr('fill-opacity', .63).attr('stroke', '#000').attr('stroke-opacity', .7)
textoLeyenda(1477, 824, 'U (zonal)')
svg.append('rect').attr('x', 1446).attr('y', 834).attr('width', 22).attr('height', 8)
  .attr('fill', '#ff7f0e').attr('fill-opacity', .63).attr('stroke', '#000').attr('stroke-opacity', .7)
textoLeyenda(1477, 838, 'V (meridional)')
</script>
</body>
</html>
